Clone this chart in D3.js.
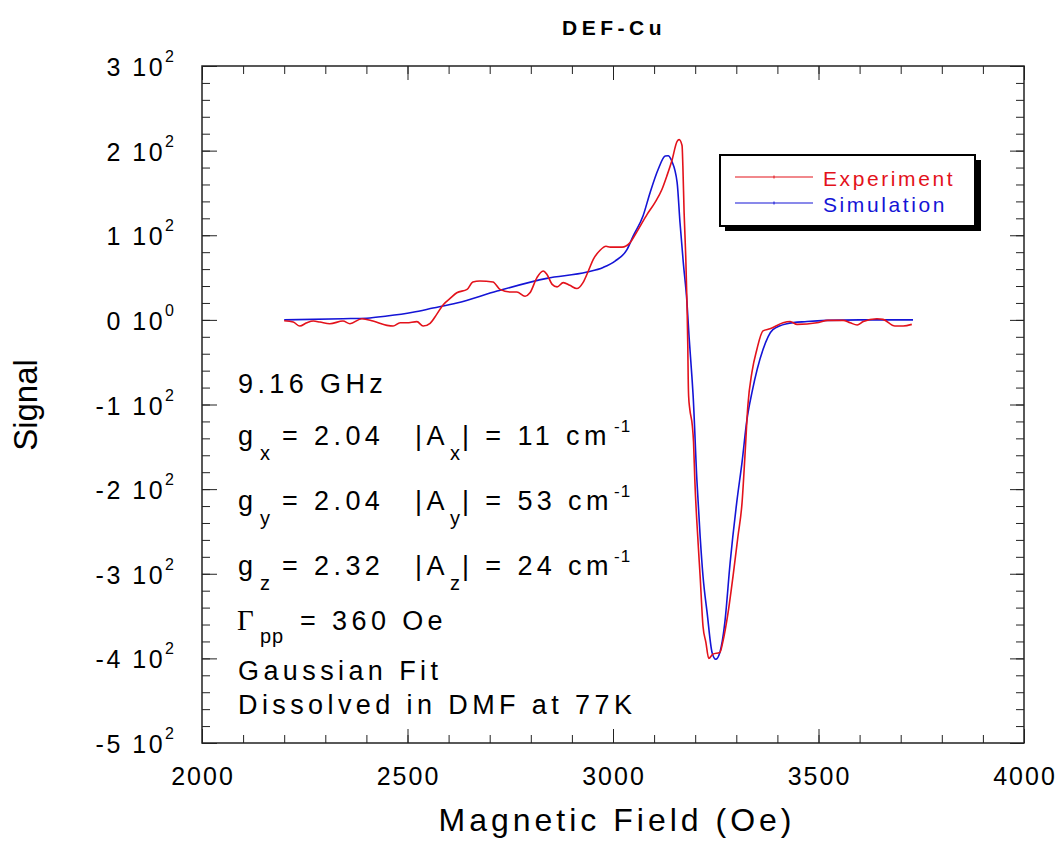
<!DOCTYPE html>
<html>
<head>
<meta charset="utf-8">
<script src="https://cdn.jsdelivr.net/npm/d3@7"></script>
<style>
  body { margin: 0; background: #fff; }
  text { font-family: "Liberation Sans", Arial, Helvetica, sans-serif; fill: #000; }
</style>
</head>
<body>
<div id="chart"></div>
<script>
// experiment trace (field in Oe, signal)
const fieldExp = [2200, 2222, 2238, 2255, 2271, 2287, 2311, 2343, 2360, 2389, 2416, 2450, 2465, 2482, 2498,
  2523, 2538, 2555, 2571, 2587, 2603, 2620, 2645, 2659, 2676, 2708, 2725, 2749, 2766, 2786, 2798, 2815,
  2830, 2839, 2852, 2864, 2879, 2895, 2912, 2927, 2940, 2952, 2968, 2983, 2993, 3022, 3041, 3058, 3083,
  3102, 3119, 3131, 3143, 3156, 3161, 3168, 3170, 3173, 3177, 3180, 3182, 3183, 3184, 3187, 3193, 3196,
  3199, 3207, 3212, 3219, 3226, 3233, 3243, 3260, 3267, 3280, 3292, 3304, 3314, 3321, 3328, 3338, 3350,
  3365, 3382, 3414, 3431, 3448, 3496, 3523, 3560, 3577, 3594, 3609, 3642, 3657, 3686, 3706, 3727];
const signalExp = [-1, -2.6, -7.3, -3.4, -1.4, -2.6, -4.5, -1.4, -4.5, 1.4, -1.4, -6.5, -7.3, -3.4, -3.4,
  -2.1, -7.3, -4, 6.5, 18, 25, 32, 36, 44.7, 46, 44.7, 36, 33, 33, 28, 32, 50,
  57.7, 54, 42, 39, 44, 40.8, 37, 44, 57.7, 71.5, 82, 87, 86, 86, 91, 104, 124.7,
  138.5, 154, 170, 187.7, 211, 213, 206, 182, 127, 75, 20, -31, -70, -90, -106, -125, -145,
  -188, -263, -303, -362, -381, -400, -395, -393, -381, -346, -303, -256, -216, -161, -102, -62, -35,
  -13, -10.5, -3.4, -2, -5.3, -3.4, -0.6, -0.6, -3.4, -6, -2, 1.4, 0.6, -7.3, -7.3, -5.3];

// simulation trace
const fieldSim = [2200, 2343, 2401, 2450, 2513, 2562, 2620, 2718, 2839, 2937, 2976, 3005, 3034, 3049, 3073,
  3090, 3110, 3127, 3134, 3143, 3156, 3163, 3171, 3180, 3185, 3192, 3195, 3204, 3212, 3219, 3229, 3241,
  3250, 3260, 3272, 3285, 3301, 3314, 3326, 3338, 3365, 3389, 3423, 3472, 3520, 3600, 3730];
const signalSim = [0, 1.4, 2, 4.5, 9, 14, 20, 34, 49, 56.5, 62, 69.5, 83, 99, 122.7,
  150, 178, 193.6, 194, 187.7, 162.5, 115, 68, 20.6, -19.5, -67, -90, -188.5, -255.6, -303, -346, -393,
  -401, -393, -358, -287, -216, -168, -117.6, -86, -35, -11.5, -4.5, -2, -0.6, 0, 0];

const xMajor = [2000, 2500, 3000, 3500, 4000];
const yMajor = [300, 200, 100, 0, -100, -200, -300, -400, -500];
const yMantissa = ["3", "2", "1", "0", "-1", "-2", "-3", "-4", "-5"];
const yExponent = ["2", "2", "2", "0", "2", "2", "2", "2", "2"];
const seriesNames = ["Experiment", "Simulation"];
const seriesColors = ["#e3121b", "#1414d6"];

const width = 1058;
const height = 860;
const marginTop = 66;
const marginRight = 34;
const marginBottom = 117;
const marginLeft = 202;

const x = d3.scaleLinear().domain([2000, 4000]).range([marginLeft, width - marginRight]);
const y = d3.scaleLinear().domain([-500, 300]).range([height - marginBottom, marginTop]);

const svg = d3.select("#chart").append("svg")
    .attr("width", width)
    .attr("height", height)
    .attr("viewBox", [0, 0, width, height]);

// title
svg.append("text")
    .attr("x", 614).attr("y", 35)
    .attr("text-anchor", "middle")
    .attr("font-size", 21).attr("font-weight", "bold")
    .attr("letter-spacing", 4.5)
    .text("DEF-Cu");

// inward ticks on all four sides
const xMinor = d3.range(2000, 4001, 100);
const yMinor = d3.range(-500, 301, 20);
function tickAxis(axis, tx, ty) {
  const g = svg.append("g").attr("transform", `translate(${tx},${ty})`).call(axis);
  g.select(".domain").remove();
  g.selectAll("text").remove();
  g.selectAll("line").attr("stroke", "#222").attr("stroke-width", 1);
}
const bottomY = height - marginBottom, rightX = width - marginRight;
tickAxis(d3.axisBottom(x).tickValues(xMinor).tickSize(-8), 0, bottomY);
tickAxis(d3.axisBottom(x).tickValues(xMajor).tickSize(-14), 0, bottomY);
tickAxis(d3.axisTop(x).tickValues(xMinor).tickSize(-8), 0, marginTop);
tickAxis(d3.axisTop(x).tickValues(xMajor).tickSize(-14), 0, marginTop);
tickAxis(d3.axisLeft(y).tickValues(yMinor).tickSize(-8), marginLeft, 0);
tickAxis(d3.axisLeft(y).tickValues(yMajor).tickSize(-15), marginLeft, 0);
tickAxis(d3.axisRight(y).tickValues(yMinor).tickSize(-8), rightX, 0);
tickAxis(d3.axisRight(y).tickValues(yMajor).tickSize(-14), rightX, 0);

// frame
svg.append("rect")
    .attr("x", marginLeft).attr("y", marginTop)
    .attr("width", rightX - marginLeft).attr("height", bottomY - marginTop)
    .attr("fill", "none").attr("stroke", "#222").attr("stroke-width", 1.5);

// x tick labels
svg.append("g").selectAll("text")
  .data(xMajor)
  .join("text")
    .attr("x", d => x(d) + 1)
    .attr("y", bottomY + 42)
    .attr("text-anchor", "middle")
    .attr("font-size", 25)
    .attr("letter-spacing", 2)
    .text(d => d);

// y tick labels like "3 10^2"
const yLab = svg.append("g").selectAll("text")
  .data(yMajor)
  .join("text")
    .attr("x", 174)
    .attr("y", d => y(d) + 10)
    .attr("text-anchor", "end")
    .attr("font-size", 25);
yLab.append("tspan").attr("letter-spacing", 2.5).text((d, i) => yMantissa[i] + " 10");
yLab.append("tspan").attr("font-size", 16).attr("dy", -14).text((d, i) => yExponent[i]);

// axis titles
svg.append("text")
    .attr("x", 617).attr("y", 831)
    .attr("text-anchor", "middle")
    .attr("font-size", 32)
    .attr("letter-spacing", 4)
    .text("Magnetic Field (Oe)");

svg.append("text")
    .attr("transform", "translate(37,405) rotate(-90)")
    .attr("text-anchor", "middle")
    .attr("font-size", 33)
    .text("Signal");

// curves
const line = d3.line()
    .x(d => x(d[0]))
    .y(d => y(d[1]))
    .curve(d3.curveMonotoneX);

const expData = fieldExp.map((f, i) => [f, signalExp[i]]);
const simData = fieldSim.map((f, i) => [f, signalSim[i]]);

svg.append("path")
    .attr("fill", "none")
    .attr("stroke", seriesColors[1])
    .attr("stroke-width", 1.6)
    .attr("d", line(simData));

svg.append("path")
    .attr("fill", "none")
    .attr("stroke", seriesColors[0])
    .attr("stroke-width", 1.6)
    .attr("d", line(expData));

// legend with drop shadow
const legend = svg.append("g").attr("transform", "translate(720,155)");
legend.append("rect").attr("x", 5).attr("y", 5).attr("width", 256).attr("height", 71).attr("fill", "#000");
legend.append("rect").attr("width", 255).attr("height", 71)
    .attr("fill", "#fff").attr("stroke", "#000").attr("stroke-width", 2);
seriesNames.forEach((name, i) => {
  const ly = 22 + i * 26;
  legend.append("line")
      .attr("x1", 15).attr("x2", 93).attr("y1", ly).attr("y2", ly)
      .attr("stroke", seriesColors[i]).attr("stroke-width", 1.2);
  legend.append("line")
      .attr("x1", 54).attr("x2", 54).attr("y1", ly - 1.5).attr("y2", ly + 1.5)
      .attr("stroke", seriesColors[i]).attr("stroke-width", 1);
  legend.append("text")
      .attr("x", 103).attr("y", ly + 9)
      .attr("font-size", 21)
      .attr("letter-spacing", 2.6)
      .style("fill", seriesColors[i])
      .text(name);
});

// parameter block
const notes = svg.append("g");
function put(px, py, str, size, extra) {
  const t = notes.append("text")
      .attr("x", px).attr("y", py)
      .attr("font-size", size)
      .attr("letter-spacing", size > 22 ? 4.4 : 1)
      .text(str);
  if (extra) extra(t);
  return t;
}
put(238, 393, "9.16 GHz", 27);

const rows = [
  { sub: "x", g: "2.04", a: "11", base: 445 },
  { sub: "y", g: "2.04", a: "53", base: 510 },
  { sub: "z", g: "2.32", a: "24", base: 575 }
];
rows.forEach(r => {
  put(238, r.base, "g", 27);
  put(260, r.base + 15, r.sub, 20);
  put(282, r.base, "= " + r.g, 27);
  put(415, r.base, "|A", 27);
  put(450, r.base + 15, r.sub, 20);
  put(462, r.base, "| = " + r.a + " cm", 27);
  put(614, r.base - 13, "-1", 17);
});

put(237, 630, "\u0393", 29, t => t.style("font-family", "\"Liberation Serif\", \"Times New Roman\", serif"));
put(260, 643, "pp", 20);
put(300, 630, "= 360 Oe", 27);
put(238, 680, "Gaussian Fit", 27);
put(238, 714, "Dissolved in DMF at 77K", 27);
</script>
</body>
</html>
